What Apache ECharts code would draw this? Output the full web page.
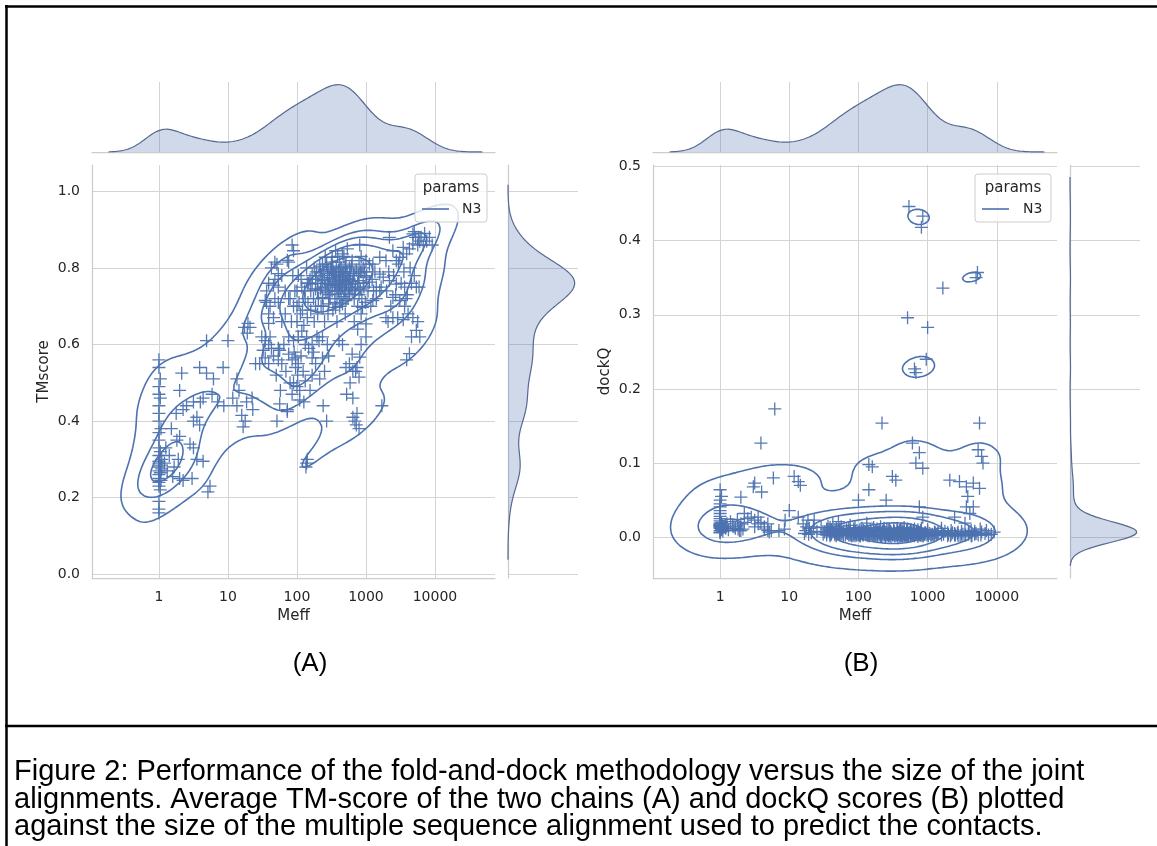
<!DOCTYPE html>
<html>
<head>
<meta charset="utf-8">
<script src="https://cdn.jsdelivr.net/npm/echarts@6/dist/echarts.min.js"></script>
<style>
  html, body { margin: 0; padding: 0; background: #fff; }
  #chart { width: 1157px; height: 846px; }
</style>
</head>
<body>
<div id="chart"></div>
<script>
// Each row: [log10(Meff), average TM-score, dockQ] for one complex.
const complexesMeff1 = [
  [0.00,0.56,0.064],[0.00,0.54,0.041],[0.02,0.51,0.055],[0.00,0.49,0.028],[0.00,0.47,0.050],
  [0.02,0.46,0.020],[0.00,0.44,0.036],[0.00,0.42,0.012],[0.00,0.40,0.045],[0.03,0.38,0.016],
  [0.00,0.37,0.025],[0.00,0.35,0.014],[0.00,0.33,0.032],[0.02,0.32,0.010],[0.00,0.31,0.018],
  [0.04,0.30,0.013],[0.00,0.295,0.022],[0.00,0.29,0.015],[0.02,0.285,0.011],[0.00,0.28,0.017],
  [0.04,0.275,0.008],[0.00,0.27,0.015],[0.02,0.265,0.012],[0.00,0.26,0.019],[0.00,0.25,0.009],
  [0.03,0.245,0.014],[0.00,0.24,0.016],[0.00,0.23,0.006],[0.02,0.22,0.011],[0.00,0.19,0.013],
  [0.00,0.17,0.007],[0.00,0.16,0.016]
];
const complexesMeff2to10 = [
  [0.08,0.29,0.012],[0.10,0.33,0.018],[0.12,0.27,0.010],[0.15,0.31,0.021],[0.18,0.38,0.015],
  [0.22,0.28,0.012],[0.25,0.42,0.024],[0.28,0.30,0.009],
  [0.20,0.255,0.014],[0.26,0.35,0.011],[0.30,0.25,0.009],[0.30,0.36,0.018],[0.30,0.48,0.054],
  [0.33,0.525,0.011],[0.35,0.245,0.020],[0.35,0.43,0.032],[0.40,0.44,0.025],[0.45,0.34,0.027],
  [0.48,0.25,0.068],[0.50,0.33,0.023],[0.50,0.40,0.014],[0.50,0.45,0.073],[0.55,0.30,0.018],
  [0.55,0.41,0.027],[0.59,0.39,0.020],[0.59,0.54,0.127],[0.60,0.45,0.061],[0.64,0.295,0.011],
  [0.64,0.46,0.014],[0.69,0.525,0.009],[0.69,0.61,0.018],[0.71,0.215,0.007],[0.74,0.23,0.009],
  [0.77,0.47,0.080],[0.79,0.51,0.173],[0.85,0.45,0.009],[0.93,0.54,0.011],[0.94,0.44,0.023]
];
const complexesMeff10to40 = [
  [1.00,0.61,0.036],[1.07,0.46,0.082],[1.13,0.51,0.075],[1.13,0.44,0.027],[1.16,0.48,0.070],
  [1.20,0.415,0.018],[1.22,0.385,0.005],[1.24,0.645,0.009],[1.25,0.40,0.014],[1.27,0.45,0.023],
  [1.28,0.63,0.004],[1.29,0.655,0.012],[1.32,0.645,0.006],[1.35,0.46,0.014],[1.36,0.43,0.023],
  [1.40,0.55,0.008],[1.46,0.55,0.013],[1.49,0.62,0.004],[1.51,0.585,0.007]
];
const complexesMeff40to1300 = [
  [1.54,0.565,0.006],[1.54,0.61,0.011],[1.54,0.715,0.003],[1.56,0.71,0.008],[1.56,0.74,0.015],
  [1.59,0.55,0.004],[1.59,0.60,0.009],[1.59,0.655,0.002],[1.59,0.68,0.013],[1.59,0.76,0.006],
  [1.61,0.62,0.010],[1.61,0.70,0.004],[1.63,0.59,0.007],[1.63,0.80,0.018],[1.66,0.57,0.003],
  [1.66,0.67,0.009],[1.66,0.755,0.005],[1.68,0.72,0.012],[1.68,0.77,0.002],[1.68,0.815,0.008],
  [1.71,0.40,0.006],[1.71,0.81,0.021],[1.73,0.56,0.004],[1.73,0.59,0.011],[1.73,0.71,0.007],
  [1.73,0.75,0.003],[1.73,0.785,0.009],[1.75,0.445,0.005],[1.75,0.585,0.014],[1.78,0.55,0.002],
  [1.78,0.66,0.008],[1.78,0.78,0.004],[1.83,0.68,0.010],[1.83,0.74,0.006],[1.86,0.43,0.003],
  [1.86,0.425,0.012],[1.86,0.82,0.007],[1.88,0.575,0.005],[1.88,0.62,0.016],[1.88,0.72,0.003],
  [1.88,0.815,0.009],[1.93,0.47,0.004],[1.93,0.56,0.011],[1.93,0.86,0.006],[1.95,0.50,0.002],
  [1.95,0.61,0.008],[1.95,0.70,0.013],[1.95,0.845,0.005],[1.98,0.54,0.009],[1.98,0.565,0.003],
  [2.00,0.49,0.050],[2.00,0.70,0.007],[2.00,0.74,0.004],[2.02,0.55,0.010],[2.02,0.62,0.006],
  [2.02,0.78,0.002],[2.04,0.455,0.008],[2.04,0.48,0.005],[2.05,0.68,0.012],[2.07,0.635,0.003],
  [2.07,0.75,0.009],[2.10,0.45,0.006],[2.10,0.65,0.004],[2.12,0.505,0.011],[2.12,0.60,0.007],
  [2.12,0.72,0.019],[2.13,0.28,0.003],[2.14,0.29,0.008],[2.15,0.30,0.005],[2.15,0.67,0.064],
  [2.15,0.76,0.098],[2.17,0.59,0.010],[2.17,0.76,0.004],[2.20,0.69,0.095],[2.22,0.52,0.006],
  [2.22,0.565,0.002],[2.22,0.60,0.013],[2.22,0.758,0.008],[2.25,0.66,0.004],[2.27,0.55,0.011],
  [2.27,0.70,0.007],[2.27,0.771,0.003],[2.30,0.68,0.009],[2.30,0.741,0.005],[2.32,0.61,0.014],
  [2.32,0.78,0.002],[2.34,0.79,0.154],[2.35,0.75,0.008],[2.37,0.565,0.004],[2.37,0.62,0.010],
  [2.37,0.723,0.006],[2.37,0.767,0.003],[2.37,0.81,0.012],[2.38,0.44,0.007],[2.40,0.53,0.050],
  [2.41,0.75,0.004],[2.41,0.828,0.009],[2.43,0.40,0.005],[2.44,0.785,0.002],[2.45,0.74,0.011],
  [2.46,0.57,0.006],[2.46,0.706,0.003],[2.46,0.758,0.008],[2.48,0.72,0.005],[2.49,0.80,0.082],
  [2.50,0.79,0.004],[2.51,0.771,0.010],[2.51,0.828,0.006],[2.52,0.755,0.002],[2.52,0.805,0.007],
  [2.54,0.78,0.077],[2.55,0.74,0.005],[2.56,0.697,0.009],[2.56,0.758,0.003],[2.56,0.784,0.012],
  [2.56,0.845,0.006],[2.58,0.72,0.004],[2.60,0.765,0.008],[2.60,0.795,0.002],[2.61,0.61,0.011],
  [2.61,0.732,0.005],[2.61,0.776,0.007],[2.62,0.815,0.003],[2.63,0.745,0.010],[2.66,0.60,0.004],
  [2.66,0.706,0.008],[2.66,0.75,0.002],[2.66,0.767,0.006],[2.66,0.78,0.013],[2.66,0.837,0.005],
  [2.68,0.725,0.003],[2.70,0.76,0.009],[2.70,0.79,0.004],[2.71,0.54,0.007],[2.71,0.715,0.296],
  [2.71,0.741,0.002],[2.71,0.78,0.011],[2.71,0.81,0.006],[2.72,0.47,0.003],[2.73,0.85,0.446],
  [2.75,0.75,0.008],[2.76,0.55,0.005],[2.76,0.732,0.004],[2.76,0.771,0.010],[2.76,0.80,0.002],
  [2.77,0.50,0.007],[2.78,0.765,0.127],[2.80,0.575,0.004],[2.80,0.741,0.009],[2.80,0.758,0.003],
  [2.80,0.819,0.006],[2.81,0.41,0.011],[2.81,0.46,0.005],[2.81,0.53,0.227],[2.82,0.785,0.004],
  [2.83,0.72,0.222],[2.83,0.66,0.100],[2.84,0.40,0.008],[2.85,0.53,0.003],[2.85,0.75,0.006],
  [2.86,0.39,0.010],[2.87,0.42,0.004],[2.87,0.54,0.007],[2.88,0.70,0.114],[2.88,0.64,0.041],
  [2.90,0.38,0.005],[2.90,0.515,0.003],[2.90,0.767,0.009],[2.90,0.81,0.006],[2.91,0.567,0.012],
  [2.91,0.86,0.418],[2.93,0.83,0.433],[2.93,0.68,0.093],[2.93,0.60,0.027],[2.95,0.697,0.004],
  [2.98,0.79,0.240],[3.00,0.62,0.008],[3.00,0.654,0.005],[3.00,0.776,0.283],[3.00,0.819,0.010],
  [3.05,0.763,0.003],[3.10,0.715,0.007],[3.10,0.81,0.004],
  // densest part of the cloud (100 < Meff < 1000), many markers overlap here
  [2.20,0.74,0.003],[2.22,0.78,0.006],[2.24,0.72,0.002],[2.25,0.80,0.009],[2.27,0.745,0.004],
  [2.28,0.79,0.001],[2.30,0.76,0.007],[2.31,0.72,0.003],[2.33,0.805,0.005],[2.34,0.745,0.002],
  [2.36,0.78,0.008],[2.38,0.70,0.004],[2.39,0.795,0.001],[2.40,0.77,0.006],[2.42,0.735,0.003],
  [2.43,0.81,0.010],[2.44,0.76,0.002],[2.45,0.795,0.005],[2.47,0.73,0.001],[2.47,0.775,0.007],
  [2.49,0.755,0.003],[2.50,0.815,0.004],[2.51,0.74,0.008],[2.53,0.79,0.002],[2.54,0.765,0.005],
  [2.55,0.71,0.003],[2.57,0.80,0.006],[2.57,0.775,0.001],[2.58,0.75,0.004],[2.59,0.83,0.009],
  [2.60,0.74,0.002],[2.61,0.79,0.005],[2.62,0.76,0.003],[2.63,0.78,0.007],[2.64,0.72,0.001],
  [2.64,0.80,0.004],[2.65,0.755,0.006],[2.67,0.79,0.002],[2.68,0.77,0.005],[2.69,0.74,0.003],
  [2.70,0.805,0.008],[2.72,0.76,0.001],[2.73,0.785,0.004],[2.74,0.72,0.006],[2.75,0.77,0.002],
  [2.77,0.79,0.005],[2.78,0.745,0.003],[2.79,0.805,0.007],[2.81,0.765,0.002],[2.83,0.78,0.004],
  [2.84,0.74,0.006],[2.86,0.795,0.001],[2.88,0.76,0.003],[2.89,0.78,0.005],[2.92,0.745,0.002],
  [2.94,0.79,0.004],[2.96,0.76,0.006],[2.52,0.69,0.003],[2.62,0.70,0.002],[2.35,0.70,0.005],
  [2.45,0.68,0.004],[2.70,0.68,0.002],[2.58,0.66,0.006],[2.40,0.66,0.003],[2.68,0.83,0.004],
  [1.90,0.72,0.004],[1.92,0.66,0.002],[1.94,0.78,0.006],[1.97,0.74,0.003],[2.00,0.66,0.005],
  [2.03,0.71,0.002],[2.06,0.77,0.004],[2.08,0.69,0.007],[2.11,0.74,0.003],[2.14,0.80,0.005],
  [2.16,0.71,0.002],[2.19,0.77,0.006],
  [2.90,0.73,0.003],[2.92,0.79,0.005],[2.94,0.72,0.002],[2.96,0.80,0.004],[2.97,0.75,0.006],
  [2.99,0.71,0.003],[3.01,0.78,0.002],[3.03,0.74,0.005],[3.05,0.81,0.003],[3.07,0.70,0.004],
  [3.09,0.77,0.002],[3.11,0.74,0.006],
  // lower edge of the main cloud
  [1.70,0.52,0.004],[1.76,0.48,0.007],[1.81,0.60,0.003],[1.84,0.53,0.005],[1.90,0.50,0.002],
  [1.96,0.58,0.006],[2.01,0.52,0.003],[2.06,0.57,0.004],[2.09,0.53,0.008],[2.14,0.62,0.002],
  [2.19,0.48,0.005],[2.24,0.58,0.003],[2.29,0.62,0.006],[2.33,0.51,0.002],[2.44,0.60,0.004]
];
const complexesMeff1300plus = [
  [3.13,0.79,0.003],[3.15,0.72,0.005],
  [3.15,0.75,0.006],[3.20,0.741,0.003],[3.20,0.784,0.009],[3.20,0.828,0.012],[3.22,0.75,0.336],
  [3.23,0.44,0.004],[3.25,0.776,0.008],[3.29,0.67,0.002],[3.29,0.819,0.006],[3.32,0.66,0.077],
  [3.34,0.767,0.004],[3.34,0.88,0.009],[3.39,0.67,0.027],[3.39,0.723,0.003],[3.39,0.845,0.005],
  [3.44,0.758,0.007],[3.44,0.819,0.002],[3.46,0.67,0.075],[3.49,0.715,0.004],[3.49,0.828,0.008],
  [3.54,0.665,0.019],[3.54,0.854,0.003],[3.56,0.75,0.068],[3.56,0.70,0.041],[3.58,0.72,0.055],
  [3.59,0.56,0.007],[3.59,0.837,0.004],[3.61,0.68,0.032],[3.63,0.576,0.009],[3.63,0.85,0.002],
  [3.66,0.76,0.073],[3.66,0.62,0.041],[3.68,0.67,0.006],[3.68,0.863,0.004],[3.68,0.889,0.008],
  [3.70,0.895,0.350],[3.72,0.88,0.357],[3.73,0.637,0.118],[3.73,0.75,0.003],[3.75,0.86,0.154],
  [3.75,0.66,0.066],[3.76,0.88,0.011],[3.78,0.62,0.109],[3.78,0.87,0.007],[3.80,0.88,0.100],
  [3.83,0.86,0.005],[3.85,0.89,0.009],[3.88,0.87,0.003],
  [3.30,0.74,0.004],[3.33,0.79,0.002],[3.36,0.70,0.006],[3.40,0.78,0.003],[3.43,0.73,0.005],
  [3.47,0.81,0.002],[3.51,0.76,0.004],[3.55,0.79,0.003],[3.60,0.73,0.006],[3.64,0.80,0.002],
  [3.70,0.78,0.005],[3.77,0.75,0.003],[3.92,0.88,0.004],[3.96,0.86,0.007]
];

// Axis ticks and their labels
const meffTicks = [0, 1, 2, 3, 4];
const meffTickLabels = ['1', '10', '100', '1000', '10000'];
const tmTicks = [0, 0.2, 0.4, 0.6, 0.8, 1.0];
const dockqTicks = [0, 0.1, 0.2, 0.3, 0.4, 0.5];

// Axis extents
const MEFF_MIN = -0.97, MEFF_MAX = 4.87;
const TM_MIN = -0.01, TM_MAX = 1.069;
const DQ_MIN = -0.055, DQ_MAX = 0.502;

// Caption and panel titles
const panelTitles = ['(A)', '(B)'];
const captionLines = [
  'Figure 2: Performance of the fold-and-dock methodology versus the size of the joint',
  'alignments. Average TM-score of the two chains (A) and dockQ scores (B) plotted',
  'against the size of the multiple sequence alignment used to predict the contacts.'
];

const BLUE = '#4c72b0';
const GRID_C = '#d4d4d4';
const SPINE_C = '#cccccc';
const TEXT_C = '#262626';
const FONT = '"DejaVu Sans", sans-serif';

// KDE bandwidth multipliers (on top of Scott's rule)
const BW_ADJUST_JOINT = 0.85;
const BW_ADJUST_MARGINAL = 0.8;

const complexes = [].concat(complexesMeff1, complexesMeff2to10, complexesMeff10to40,
  complexesMeff40to1300, complexesMeff1300plus);
const logMeff = complexes.map(r => r[0]);
const tmScore = complexes.map(r => r[1]);
const dockQ = complexes.map(r => r[2]);

// ---------- kernel density estimates (Gaussian kernel, Scott's rule) ----------
function linspace(a, b, n) {
  const out = [];
  for (let i = 0; i < n; i++) out.push(a + (b - a) * i / (n - 1));
  return out;
}
function mean(a) { return a.reduce((s, v) => s + v, 0) / a.length; }

function kde1d(vals, lo, hi) {
  const n = vals.length, m = mean(vals);
  const sd = Math.sqrt(vals.reduce((s, v) => s + (v - m) * (v - m), 0) / (n - 1));
  const bw = Math.pow(n, -1 / 5) * sd * BW_ADJUST_MARGINAL;
  const grid = linspace(Math.min(...vals) - 3 * bw, Math.max(...vals) + 3 * bw, 200);
  const norm = 1 / (n * bw * Math.sqrt(2 * Math.PI));
  return grid.map(x => {
    let s = 0;
    for (const v of vals) { const u = (x - v) / bw; s += Math.exp(-0.5 * u * u); }
    return [x, s * norm];
  }).filter(p => p[0] >= lo && p[0] <= hi);
}

function kde2d(xs, ys) {
  const n = xs.length;
  const f = Math.pow(n, -1 / 6) * BW_ADJUST_JOINT, f2 = f * f;
  const mx = mean(xs), my = mean(ys);
  let sxx = 0, syy = 0, sxy = 0;
  for (let k = 0; k < n; k++) {
    const dx = xs[k] - mx, dy = ys[k] - my;
    sxx += dx * dx; syy += dy * dy; sxy += dx * dy;
  }
  const kxx = sxx / (n - 1) * f2, kyy = syy / (n - 1) * f2, kxy = sxy / (n - 1) * f2;
  const det = kxx * kyy - kxy * kxy;
  const ixx = kyy / det, iyy = kxx / det, ixy = -kxy / det;
  const bx = Math.sqrt(kxx), by = Math.sqrt(kyy);
  const N = 200;
  const gx = linspace(Math.min(...xs) - 3 * bx, Math.max(...xs) + 3 * bx, N);
  const gy = linspace(Math.min(...ys) - 3 * by, Math.max(...ys) + 3 * by, N);
  const z = [];
  for (let j = 0; j < N; j++) {
    const row = new Float64Array(N);
    for (let i = 0; i < N; i++) {
      let s = 0;
      for (let k = 0; k < n; k++) {
        const dx = gx[i] - xs[k], dy = gy[j] - ys[k];
        const q = ixx * dx * dx + 2 * ixy * dx * dy + iyy * dy * dy;
        if (q < 60) s += Math.exp(-0.5 * q);
      }
      row[i] = s;
    }
    z.push(row);
  }
  return { gx, gy, z };
}

// density thresholds enclosing the given proportions of probability mass
function isoLevels(z, props) {
  const vals = [];
  for (const row of z) for (const v of row) vals.push(v);
  vals.sort((a, b) => b - a);
  const total = vals.reduce((s, v) => s + v, 0);
  const cum = [];
  let c = 0;
  for (const v of vals) { c += v; cum.push(c / total); }
  return props.map(p => {
    const t = 1 - p;
    let idx = cum.findIndex(v => v >= t);
    if (idx < 0) idx = vals.length - 1;
    return vals[idx];
  });
}

// marching squares, segments joined into polylines
function isoLines(gx, gy, z, level) {
  const nx = gx.length, ny = gy.length;
  const pos = new Map(), adj = new Map();
  const link = (a, b) => {
    if (!adj.has(a)) adj.set(a, []);
    if (!adj.has(b)) adj.set(b, []);
    adj.get(a).push(b); adj.get(b).push(a);
  };
  const hPoint = (i, j) => { const a = z[j][i], b = z[j][i + 1]; const t = (level - a) / (b - a); return [gx[i] + t * (gx[i + 1] - gx[i]), gy[j]]; };
  const vPoint = (i, j) => { const a = z[j][i], b = z[j + 1][i]; const t = (level - a) / (b - a); return [gx[i], gy[j] + t * (gy[j + 1] - gy[j])]; };
  for (let j = 0; j < ny - 1; j++) {
    for (let i = 0; i < nx - 1; i++) {
      const a = z[j][i], b = z[j][i + 1], c = z[j + 1][i + 1], d = z[j + 1][i];
      const code = (a >= level ? 1 : 0) | (b >= level ? 2 : 0) | (c >= level ? 4 : 0) | (d >= level ? 8 : 0);
      if (code === 0 || code === 15) continue;
      const B = 'h' + i + '_' + j, R = 'v' + (i + 1) + '_' + j, T = 'h' + i + '_' + (j + 1), L = 'v' + i + '_' + j;
      const ba = code & 1, bb = (code >> 1) & 1, bc = (code >> 2) & 1, bd = (code >> 3) & 1;
      const cross = [];
      if (ba !== bb) { cross.push(B); if (!pos.has(B)) pos.set(B, hPoint(i, j)); }
      if (bb !== bc) { cross.push(R); if (!pos.has(R)) pos.set(R, vPoint(i + 1, j)); }
      if (bd !== bc) { cross.push(T); if (!pos.has(T)) pos.set(T, hPoint(i, j + 1)); }
      if (ba !== bd) { cross.push(L); if (!pos.has(L)) pos.set(L, vPoint(i, j)); }
      if (cross.length === 2) link(cross[0], cross[1]);
      else if (cross.length === 4) {
        const hi = (a + b + c + d) / 4 >= level;
        if (code === 5) { if (hi) { link(B, R); link(L, T); } else { link(B, L); link(R, T); } }
        else { if (hi) { link(B, L); link(R, T); } else { link(B, R); link(L, T); } }
      }
    }
  }
  const used = new Set(), chains = [];
  const walk = start => {
    const chain = [pos.get(start)];
    used.add(start);
    let prev = null, cur = start;
    for (;;) {
      const nb = adj.get(cur);
      const next = nb.find(k => k !== prev && !used.has(k));
      if (next === undefined) {
        if (nb.includes(start) && chain.length > 2) chain.push(pos.get(start));
        break;
      }
      used.add(next); chain.push(pos.get(next)); prev = cur; cur = next;
    }
    return chain;
  };
  for (const [k, nb] of adj) if (nb.length === 1 && !used.has(k)) chains.push(walk(k));
  for (const k of adj.keys()) if (!used.has(k)) chains.push(walk(k));
  return chains;
}

const CONTOUR_PROPS = [0.05, 0.24, 0.43, 0.62, 0.81];

function contourSeries(xs, ys, axisIdx) {
  const { gx, gy, z } = kde2d(xs, ys);
  const levels = isoLevels(z, CONTOUR_PROPS);
  const out = [];
  levels.forEach(L => {
    isoLines(gx, gy, z, L).forEach(chain => {
      out.push({
        type: 'line', name: 'N3', xAxisIndex: axisIdx, yAxisIndex: axisIdx,
        data: chain, showSymbol: false, symbol: 'none', smooth: false,
        lineStyle: { color: BLUE, width: 1.6 }, silent: true, animation: false, z: 3
      });
    });
  });
  return out;
}

// ---------- panels ----------
const PLUS = 'path://M5.85,0H7.15V5.85H13V7.15H7.15V13H5.85V7.15H0V5.85H5.85Z';
const MARG_FILL = 'rgba(76,114,176,0.27)';
const MARG_LINE = '#56698f';

const meffCurve = kde1d(logMeff, MEFF_MIN, MEFF_MAX);
const tmCurve = kde1d(tmScore, TM_MIN, TM_MAX);
const dqCurve = kde1d(dockQ, DQ_MIN, DQ_MAX);
const peak = c => Math.max(...c.map(p => p[1]));

function marginalSeries(axisIdx, curve, vertical) {
  return {
    type: 'custom', xAxisIndex: axisIdx, yAxisIndex: axisIdx, silent: true, animation: false, z: 2,
    data: [[0, 0]],
    renderItem: (params, api) => {
      const pts = curve.map(([v, d]) => api.coord(vertical ? [d, v] : [v, d]));
      const v0 = curve[0][0], v1 = curve[curve.length - 1][0];
      const b0 = api.coord(vertical ? [0, v0] : [v0, 0]);
      const b1 = api.coord(vertical ? [0, v1] : [v1, 0]);
      return {
        type: 'group',
        children: [
          { type: 'polygon', shape: { points: [b0].concat(pts, [b1]) }, style: { fill: MARG_FILL, stroke: null } },
          { type: 'polyline', shape: { points: pts }, style: { stroke: MARG_LINE, lineWidth: 1.2, fill: null } }
        ]
      };
    }
  };
}

const labelText = { fontSize: 14, color: TEXT_C, fontFamily: FONT };
const gridLine = { show: true, lineStyle: { color: GRID_C, width: 1 } };
const spine = { show: true, onZero: false, lineStyle: { color: SPINE_C, width: 1.25 } };

function xMain(g) {
  return {
    gridIndex: g, type: 'value', min: MEFF_MIN, max: MEFF_MAX,
    name: 'Meff', nameLocation: 'middle', nameGap: 31,
    nameTextStyle: { fontSize: 15, color: TEXT_C, fontFamily: FONT },
    axisLine: spine,
    axisTick: { show: false, customValues: meffTicks },
    axisLabel: Object.assign({ customValues: meffTicks, margin: 12,
      formatter: v => { const i = meffTicks.indexOf(v); return i >= 0 ? meffTickLabels[i] : ''; } }, labelText),
    splitLine: gridLine
  };
}
function yMain(g, name, min, max, ticks, gap) {
  return {
    gridIndex: g, type: 'value', min, max,
    name, nameLocation: 'middle', nameGap: gap,
    nameTextStyle: { fontSize: 15, color: TEXT_C, fontFamily: FONT },
    axisLine: spine,
    axisTick: { show: false, customValues: ticks },
    axisLabel: Object.assign({ customValues: ticks, margin: 12, formatter: v => v.toFixed(1) }, labelText),
    splitLine: gridLine
  };
}
function xTop(g) {
  return {
    gridIndex: g, type: 'value', min: MEFF_MIN, max: MEFF_MAX, axisLine: spine,
    axisTick: { show: false, customValues: meffTicks },
    axisLabel: { show: false, customValues: meffTicks }, splitLine: gridLine
  };
}
function yRight(g, min, max, ticks) {
  return {
    gridIndex: g, type: 'value', min, max, axisLine: spine,
    axisTick: { show: false, customValues: ticks },
    axisLabel: { show: false, customValues: ticks }, splitLine: gridLine
  };
}
const hidden = (g, max) => ({ gridIndex: g, type: 'value', min: 0, max, show: false });

const scatterSeries = (axisIdx, xs, ys) => ({
  type: 'scatter', xAxisIndex: axisIdx, yAxisIndex: axisIdx,
  data: xs.map((x, i) => [x, ys[i]]),
  symbol: PLUS, symbolSize: 13, itemStyle: { color: BLUE, opacity: 0.95 },
  silent: true, animation: false, z: 2
});

function legendBox(x, w, lineX, textX) {
  return [
    { type: 'rect', z: 100, shape: { x, y: 174, width: w, height: 48, r: 3 },
      style: { fill: 'rgba(255,255,255,0.8)', stroke: '#cccccc', lineWidth: 1 } },
    { type: 'text', z: 101, style: { text: 'params', x: x + w / 2, y: 188, align: 'center', verticalAlign: 'middle',
      font: '15px "DejaVu Sans"', fill: TEXT_C } },
    { type: 'line', z: 101, shape: { x1: lineX, y1: 209, x2: lineX + 27, y2: 209 },
      style: { stroke: BLUE, lineWidth: 1.6 } },
    { type: 'text', z: 101, style: { text: 'N3', x: textX, y: 209, align: 'left', verticalAlign: 'middle',
      font: '14px "DejaVu Sans"', fill: TEXT_C } }
  ];
}

const option = {
  backgroundColor: '#ffffff',
  animation: false,
  grid: [
    { left: 92, top: 165, width: 403, height: 413 },
    { left: 92, top: 82, width: 403, height: 70 },
    { left: 508, top: 165, width: 70, height: 413 },
    { left: 653, top: 165, width: 404, height: 413 },
    { left: 653, top: 82, width: 404, height: 70 },
    { left: 1070, top: 165, width: 70, height: 413 }
  ],
  xAxis: [
    xMain(0), xTop(1), hidden(2, peak(tmCurve) * 1.05),
    xMain(3), xTop(4), hidden(5, peak(dqCurve) * 1.05)
  ],
  yAxis: [
    yMain(0, 'TMscore', TM_MIN, TM_MAX, tmTicks, 40), hidden(1, peak(meffCurve) * 1.04),
    yRight(2, TM_MIN, TM_MAX, tmTicks),
    yMain(3, 'dockQ', DQ_MIN, DQ_MAX, dockqTicks, 40), hidden(4, peak(meffCurve) * 1.04),
    yRight(5, DQ_MIN, DQ_MAX, dockqTicks)
  ],
  series: [].concat(
    scatterSeries(0, logMeff, tmScore),
    contourSeries(logMeff, tmScore, 0),
    marginalSeries(1, meffCurve, false),
    marginalSeries(2, tmCurve, true),
    scatterSeries(3, logMeff, dockQ),
    contourSeries(logMeff, dockQ, 3),
    marginalSeries(4, meffCurve, false),
    marginalSeries(5, dqCurve, true)
  ),
  graphic: [].concat(
    legendBox(415, 72, 422, 462),
    legendBox(975, 76, 982, 1023),
    [
      { type: 'line', z: 100, shape: { x1: 5, y1: 6.5, x2: 1157, y2: 6.5 }, style: { stroke: '#000', lineWidth: 2.5 } },
      { type: 'line', z: 100, shape: { x1: 6.5, y1: 5, x2: 6.5, y2: 846 }, style: { stroke: '#000', lineWidth: 2.5 } },
      { type: 'line', z: 100, shape: { x1: 5, y1: 726, x2: 1157, y2: 726 }, style: { stroke: '#000', lineWidth: 2.5 } },
      { type: 'text', z: 100, style: { text: panelTitles[0], x: 310, y: 664, align: 'center', verticalAlign: 'middle',
        font: '26px "Liberation Sans"', fill: '#000' } },
      { type: 'text', z: 100, style: { text: panelTitles[1], x: 861, y: 664, align: 'center', verticalAlign: 'middle',
        font: '26px "Liberation Sans"', fill: '#000' } }
    ],
    captionLines.map((t, i) => ({
      type: 'text', z: 100,
      style: { text: t, x: 14, y: 772 + i * 27.5, align: 'left', verticalAlign: 'middle',
        font: '29px "Liberation Sans"', fill: '#000' }
    }))
  )
};

const chart = echarts.init(document.getElementById('chart'));
chart.setOption(option);
</script>
</body>
</html>
